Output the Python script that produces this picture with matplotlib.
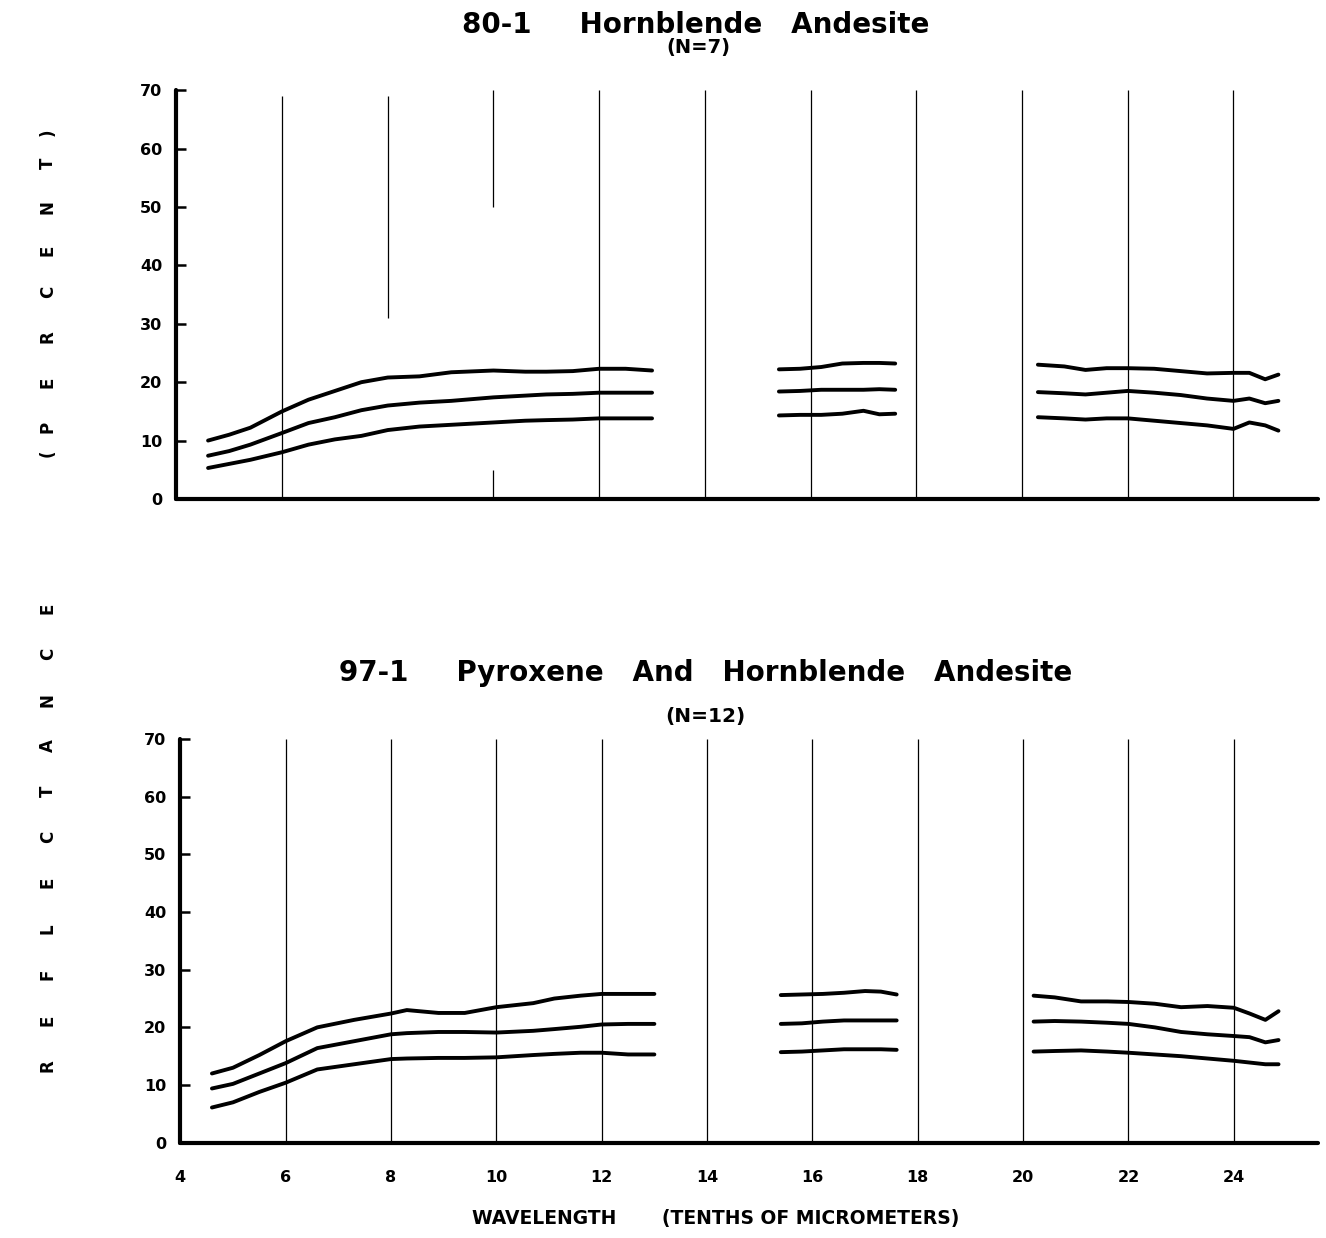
import numpy as np
import matplotlib.pyplot as plt

plt.rcParams['font.family'] = ['DejaVu Sans']
plt.rcParams['font.weight'] = 'bold'

# y ticks and vertical lines
y_ticks = [0, 10, 20, 30, 40, 50, 60, 70]
x_ticks = [4, 6, 8, 10, 12, 14, 16, 18, 20, 22, 24]
grid_x = [6, 8, 10, 12, 14, 16, 18, 20, 22, 24]

# top panel: 80-1 Hornblende Andesite (N=7)
top_s1_x = [4.6, 5.0, 5.4, 6.0, 6.5, 7.0, 7.5, 8.0, 8.6, 9.2, 10.0, 10.6, 11.0, 11.5, 12.0, 12.5, 13.0]
top_s1_hi = [10.0, 11.0, 12.2, 15.0, 17.0, 18.5, 20.0, 20.8, 21.0, 21.7, 22.0, 21.8, 21.8, 21.9, 22.3, 22.3, 22.0]
top_s1_mid = [7.4, 8.2, 9.3, 11.3, 13.0, 14.0, 15.2, 16.0, 16.5, 16.8, 17.4, 17.7, 17.9, 18.0, 18.2, 18.2, 18.2]
top_s1_lo = [5.3, 6.0, 6.7, 8.0, 9.3, 10.2, 10.8, 11.8, 12.4, 12.7, 13.1, 13.4, 13.5, 13.6, 13.8, 13.8, 13.8]

top_s2_x = [15.4, 15.8, 16.2, 16.6, 17.0, 17.3, 17.6]
top_s2_hi = [22.2, 22.3, 22.6, 23.2, 23.3, 23.3, 23.2]
top_s2_mid = [18.4, 18.5, 18.7, 18.7, 18.7, 18.8, 18.7]
top_s2_lo = [14.3, 14.4, 14.4, 14.6, 15.1, 14.5, 14.6]

top_s3_x = [20.3, 20.8, 21.2, 21.6, 22.0, 22.5, 23.0, 23.5, 24.0, 24.3, 24.6, 24.85]
top_s3_hi = [23.0, 22.7, 22.1, 22.4, 22.4, 22.3, 21.9, 21.5, 21.6, 21.6, 20.5, 21.3]
top_s3_mid = [18.3, 18.1, 17.9, 18.2, 18.5, 18.2, 17.8, 17.2, 16.8, 17.2, 16.4, 16.8]
top_s3_lo = [14.0, 13.8, 13.6, 13.8, 13.8, 13.4, 13.0, 12.6, 12.0, 13.1, 12.6, 11.7]

# vertical lines in the top panel are broken in places
top_grid_lo = [0, 31, 50, 0, 0, 0, 0, 0, 0, 0]
top_grid_hi = [69, 69, 70, 70, 70, 70, 70, 70, 70, 70]
top_stub_x = [10]
top_stub_hi = [5]

# bottom panel: 97-1 Pyroxene And Hornblende Andesite (N=12)
bot_s1_x = [4.6, 5.0, 5.5, 6.0, 6.6, 7.3, 8.0, 8.3, 8.9, 9.4, 10.0, 10.7, 11.1, 11.6, 12.0, 12.5, 13.0]
bot_s1_hi = [12.0, 13.0, 15.2, 17.6, 20.0, 21.3, 22.4, 23.0, 22.5, 22.5, 23.5, 24.2, 25.0, 25.5, 25.8, 25.8, 25.8]
bot_s1_mid = [9.4, 10.2, 12.0, 13.8, 16.4, 17.6, 18.8, 19.0, 19.2, 19.2, 19.1, 19.4, 19.7, 20.1, 20.5, 20.6, 20.6]
bot_s1_lo = [6.1, 7.0, 8.8, 10.4, 12.7, 13.6, 14.5, 14.6, 14.7, 14.7, 14.8, 15.2, 15.4, 15.6, 15.6, 15.3, 15.3]

bot_s2_x = [15.4, 15.8, 16.2, 16.6, 17.0, 17.3, 17.6]
bot_s2_hi = [25.6, 25.7, 25.8, 26.0, 26.3, 26.2, 25.7]
bot_s2_mid = [20.6, 20.7, 21.0, 21.2, 21.2, 21.2, 21.2]
bot_s2_lo = [15.7, 15.8, 16.0, 16.2, 16.2, 16.2, 16.1]

bot_s3_x = [20.2, 20.6, 21.1, 21.6, 22.0, 22.5, 23.0, 23.5, 24.0, 24.3, 24.6, 24.85]
bot_s3_hi = [25.5, 25.2, 24.5, 24.5, 24.4, 24.1, 23.5, 23.7, 23.4, 22.4, 21.3, 22.8]
bot_s3_mid = [21.0, 21.1, 21.0, 20.8, 20.6, 20.0, 19.2, 18.8, 18.5, 18.3, 17.4, 17.8]
bot_s3_lo = [15.8, 15.9, 16.0, 15.8, 15.6, 15.3, 15.0, 14.6, 14.2, 13.9, 13.6, 13.6]

top_segments = [
    (top_s1_x, [top_s1_hi, top_s1_mid, top_s1_lo]),
    (top_s2_x, [top_s2_hi, top_s2_mid, top_s2_lo]),
    (top_s3_x, [top_s3_hi, top_s3_mid, top_s3_lo]),
]
bot_segments = [
    (bot_s1_x, [bot_s1_hi, bot_s1_mid, bot_s1_lo]),
    (bot_s2_x, [bot_s2_hi, bot_s2_mid, bot_s2_lo]),
    (bot_s3_x, [bot_s3_hi, bot_s3_mid, bot_s3_lo]),
]

fig = plt.figure(figsize=(13.26, 12.38), dpi=100)
ax_top = fig.add_axes([0.133, 0.597, 0.861, 0.330])
ax_bot = fig.add_axes([0.136, 0.077, 0.858, 0.326])


def style_axes(ax, show_xlabels):
    ax.set_xlim(4, 25.6)
    ax.set_ylim(0, 70)
    for s in ['top', 'right']:
        ax.spines[s].set_visible(False)
    for s in ['left', 'bottom']:
        ax.spines[s].set_linewidth(3)
        ax.spines[s].set_capstyle('round')
    ax.set_yticks(y_ticks)
    ax.tick_params(axis='y', direction='in', length=7, width=1.8, pad=10,
                   labelsize=11.5)
    ax.set_xticks(x_ticks)
    ax.tick_params(axis='x', length=0, pad=20, labelsize=11.5,
                   labelbottom=show_xlabels)
    for lbl in ax.get_xticklabels() + ax.get_yticklabels():
        lbl.set_fontweight('bold')


def draw_curves(ax, segments):
    for xs, curves in segments:
        for ys in curves:
            ax.plot(xs, ys, color='black', lw=2.8, solid_capstyle='round',
                    solid_joinstyle='round')


# top panel
style_axes(ax_top, False)
ax_top.vlines(grid_x, top_grid_lo, top_grid_hi, color='black', lw=0.9)
ax_top.vlines(top_stub_x, 0, top_stub_hi, color='black', lw=0.9)
draw_curves(ax_top, top_segments)

# bottom panel
style_axes(ax_bot, True)
ax_bot.vlines(grid_x, 0, 70, color='black', lw=0.9)
draw_curves(ax_bot, bot_segments)

fig.text(0.525, 0.980, '80-1     Hornblende   Andesite', ha='center', va='center',
         fontsize=20, fontweight='bold')
fig.text(0.527, 0.962, '(N=7)', ha='center', va='center', fontsize=14,
         fontweight='bold')
fig.text(0.532, 0.456, '97-1     Pyroxene   And   Hornblende   Andesite',
         ha='center', va='center', fontsize=20, fontweight='bold')
fig.text(0.532, 0.421, '(N=12)', ha='center', va='center', fontsize=14.5,
         fontweight='bold')

fig.text(0.54, 0.016, 'WAVELENGTH       (TENTHS OF MICROMETERS)', ha='center',
         va='center', fontsize=13.5, fontweight='bold')

# spaced-out vertical axis title, one letter at a time
H = 1238.0
word1 = 'REFLECTANCE'
for i, ch in enumerate(word1):
    fig.text(0.036, 1 - (1066 - i * 45.8) / H, ch, ha='center', va='center',
             rotation=90, fontsize=12, fontweight='bold')
word2 = '(PERCENT)'
word2_y = [453, 427, 382, 337, 292, 250, 207, 163, 132]
for ch, yy in zip(word2, word2_y):
    fig.text(0.036, 1 - yy / H, ch, ha='center', va='center',
             rotation=90, fontsize=12, fontweight='bold')

fig.savefig('out.png', dpi=100)
